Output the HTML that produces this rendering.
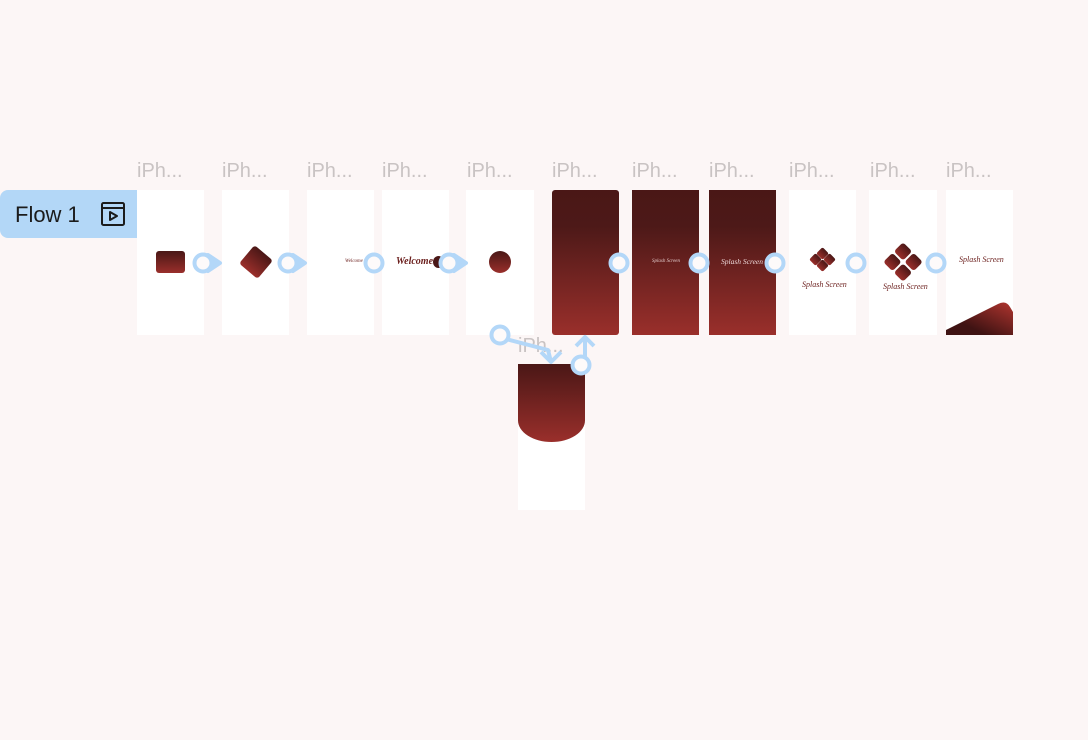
<!DOCTYPE html>
<html><head><meta charset="utf-8"><style>
html,body{margin:0;padding:0;}
body{width:1088px;height:740px;background:#fcf6f6;position:relative;overflow:hidden;font-family:"Liberation Sans",sans-serif;}
.lbl{position:absolute;top:160px;font-size:20px;color:#c9c3c3;}
.fr{position:absolute;top:190px;width:67px;height:145px;background:#fff;overflow:hidden;}
.dark{background:linear-gradient(#4a1716 0%,#4d1918 25%,#9a2f2b 100%);}
.sc{position:absolute;font-family:"Liberation Serif",serif;font-style:italic;color:#6b1f1d;white-space:nowrap;}
</style></head><body>
<div style="position:absolute;left:0;top:190px;width:137px;height:48px;background:#b3d7f7;border-radius:8px 0 0 8px;">
 <span style="position:absolute;left:15px;top:12px;font-size:22px;color:#1b1b1b;">Flow 1</span>
 <svg style="position:absolute;left:100px;top:11px" width="26" height="26" viewBox="0 0 26 26"><rect x="2" y="2" width="22" height="22" rx="1.5" fill="none" stroke="#1b1b1b" stroke-width="2"/><line x1="2" y1="7" x2="24" y2="7" stroke="#1b1b1b" stroke-width="2"/><path d="M10 11 L17 15 L10 19 Z" fill="none" stroke="#1b1b1b" stroke-width="2" stroke-linejoin="round"/></svg>
</div>

<div class="lbl" style="left:137px">iPh...</div>
<div class="lbl" style="left:222px">iPh...</div>
<div class="lbl" style="left:307px">iPh...</div>
<div class="lbl" style="left:382px">iPh...</div>
<div class="lbl" style="left:467px">iPh...</div>
<div class="lbl" style="left:552px">iPh...</div>
<div class="lbl" style="left:632px">iPh...</div>
<div class="lbl" style="left:709px">iPh...</div>
<div class="lbl" style="left:789px">iPh...</div>
<div class="lbl" style="left:870px">iPh...</div>
<div class="lbl" style="left:946px">iPh...</div>
<div class="lbl" style="left:518px;top:335px">iPh...</div>

<div class="fr" style="left:137px"><div style="position:absolute;left:19px;top:61px;width:29px;height:22px;border-radius:3px;background:linear-gradient(#4a1716,#9a2f2b)"></div></div>
<div class="fr" style="left:222px"><div style="position:absolute;left:22px;top:60px;width:24px;height:24px;border-radius:3px;transform:rotate(40deg);background:linear-gradient(#4a1716,#9a2f2b)"></div></div>
<div class="fr" style="left:307px"><span class="sc" style="left:38px;top:69px;font-size:5px">Welcome</span></div>
<div class="fr" style="left:382px"><span class="sc" style="left:14px;top:66px;font-size:10px;font-weight:bold">Welcome</span><div style="position:absolute;left:51px;top:66px;width:11px;height:12px;border-radius:50%;background:#4a1716"></div></div>
<div class="fr" style="left:466px;width:68px"><div style="position:absolute;left:23px;top:61px;width:22px;height:22px;border-radius:50%;background:linear-gradient(#4a1716,#9a2f2b)"></div></div>
<div class="fr dark" style="left:552px;border-radius:3px"></div>
<div class="fr dark" style="left:632px"><span class="sc" style="left:20px;top:69px;font-size:5px;color:#e0c8c8">Splash Screen</span></div>
<div class="fr dark" style="left:709px"><span class="sc" style="left:12px;top:67px;font-size:7.5px;color:#eedada">Splash Screen</span></div>
<div class="fr" style="left:789px">
 <div style="position:absolute;left:20px;top:62px;width:28px;height:14px;">
  <div style="position:absolute;left:9px;top:-3px;width:9px;height:9px;transform:rotate(45deg);border-radius:2px;background:linear-gradient(#4a1716,#9a2f2b)"></div>
  <div style="position:absolute;left:2px;top:3px;width:9px;height:9px;transform:rotate(45deg);border-radius:2px;background:linear-gradient(#4a1716,#9a2f2b)"></div>
  <div style="position:absolute;left:16px;top:3px;width:9px;height:9px;transform:rotate(45deg);border-radius:2px;background:linear-gradient(#4a1716,#9a2f2b)"></div>
  <div style="position:absolute;left:9px;top:9px;width:9px;height:9px;transform:rotate(45deg);border-radius:2px;background:linear-gradient(#4a1716,#9a2f2b)"></div>
 </div>
 <span class="sc" style="left:13px;top:90px;font-size:8px">Splash Screen</span></div>
<div class="fr" style="left:869px;width:68px">
 <div style="position:absolute;left:19px;top:57px;width:30px;height:30px;transform:rotate(45deg);">
  <div style="position:absolute;left:1px;top:1px;width:13px;height:13px;border-radius:3px;background:linear-gradient(#4a1716,#9a2f2b)"></div>
  <div style="position:absolute;left:16px;top:1px;width:13px;height:13px;border-radius:3px;background:linear-gradient(#4a1716,#9a2f2b)"></div>
  <div style="position:absolute;left:1px;top:16px;width:13px;height:13px;border-radius:3px;background:linear-gradient(#4a1716,#9a2f2b)"></div>
  <div style="position:absolute;left:16px;top:16px;width:13px;height:13px;border-radius:3px;background:linear-gradient(#4a1716,#9a2f2b)"></div>
 </div>
 <span class="sc" style="left:14px;top:92px;font-size:8px">Splash Screen</span></div>
<div class="fr" style="left:946px"><span class="sc" style="left:13px;top:65px;font-size:8px">Splash Screen</span>
 <svg style="position:absolute;left:0;top:0" width="67" height="145"><path d="M0 140 L52 114 Q60 110 64 117 L67 122 L67 145 L0 145 Z" fill="url(#g11)"/><defs><linearGradient id="g11" x1="0" y1="1" x2="1" y2="0"><stop offset="0.3" stop-color="#3f1313"/><stop offset="1" stop-color="#b0352f"/></linearGradient></defs></svg></div>
<div class="fr" style="left:518px;top:364px;height:146px"><div style="position:absolute;left:0;top:0;width:67px;height:78px;border-radius:0 0 34px 34px/0 0 22px 22px;background:linear-gradient(#4a1716,#9a2f2b)"></div></div>

<svg style="position:absolute;left:0;top:0" width="1088" height="740">
 <g fill="none" stroke="#b3d7f8" stroke-width="4" stroke-linejoin="round">
  <g><path d="M208 255 L220 263 L208 271 Z" fill="#b3d7f8"/><circle cx="203" cy="263" r="8.5" fill="#fdfafa"/></g>
  <g><path d="M293 255 L305 263 L293 271 Z" fill="#b3d7f8"/><circle cx="288" cy="263" r="8.5" fill="#fdfafa"/></g>
  <g><circle cx="374" cy="263" r="8.5" fill="#fdfafa"/></g>
  <g><path d="M454 255 L466 263 L454 271 Z" fill="#b3d7f8"/><circle cx="449" cy="263" r="8.5" fill="#fdfafa"/></g>
  <g><circle cx="619" cy="263" r="8.5" fill="#fdfafa"/></g>
  <g><circle cx="699" cy="263" r="8.5" fill="#fdfafa"/></g>
  <g><circle cx="775" cy="263" r="8.5" fill="#fdfafa"/></g>
  <g><circle cx="856" cy="263" r="8.5" fill="#fdfafa"/></g>
  <g><circle cx="936" cy="263" r="8.5" fill="#fdfafa"/></g>
  <g><path d="M506 339 L548 350 L551 362"/><path d="M541 352 L551 362 L561 352"/><circle cx="500" cy="335" r="8.5" fill="#fdfafa"/></g>
  <g><path d="M585 357 L585 337"/><path d="M576 346 L585 337 L594 346"/><circle cx="581" cy="365" r="8.5" fill="#fdfafa"/></g>
 </g>
</svg>
</body></html>
